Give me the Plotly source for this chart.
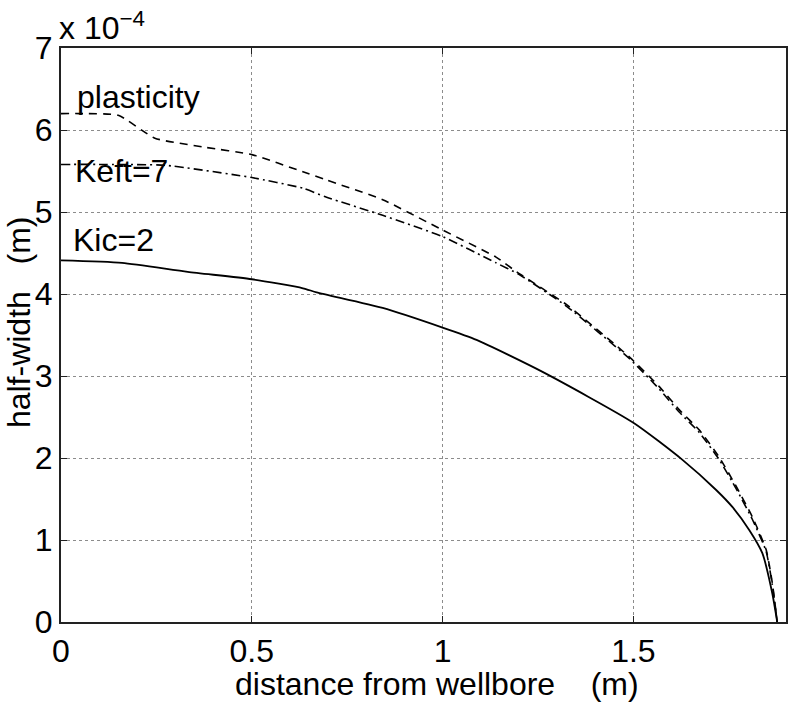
import plotly.graph_objects as go

# distance from wellbore (m)
plast_x = [0.0, 0.05, 0.15, 0.246, 0.377, 0.5, 0.634, 0.696, 0.843, 1.0, 1.14, 1.194, 1.325, 1.49, 1.568, 1.62, 1.673, 1.725, 1.77, 1.812, 1.848, 1.864, 1.877]
# half-width (x 1e-4 m)
plast_y = [6.20, 6.20, 6.18, 5.90, 5.79, 5.70, 5.49, 5.39, 5.15, 4.78, 4.45, 4.27, 3.87, 3.23, 2.87, 2.59, 2.34, 2.01, 1.65, 1.28, 0.88, 0.48, 0.0]

keft_x = [0.0, 0.1, 0.272, 0.5, 0.634, 0.696, 0.843, 1.0, 1.14, 1.2, 1.325, 1.49, 1.568, 1.62, 1.673, 1.725, 1.77, 1.812, 1.848, 1.864, 1.877]
keft_y = [5.58, 5.58, 5.57, 5.42, 5.29, 5.18, 4.96, 4.70, 4.38, 4.24, 3.85, 3.21, 2.84, 2.56, 2.31, 1.98, 1.62, 1.25, 0.86, 0.46, 0.0]

kic_x = [0.0, 0.16, 0.332, 0.5, 0.634, 0.67, 0.843, 1.0, 1.089, 1.262, 1.5, 1.628, 1.717, 1.76, 1.804, 1.838, 1.864, 1.877]
kic_y = [4.41, 4.38, 4.27, 4.18, 4.07, 4.02, 3.83, 3.59, 3.44, 3.05, 2.43, 1.98, 1.61, 1.40, 1.12, 0.84, 0.35, 0.0]

x_ticks = [0, 0.5, 1, 1.5]
x_tick_labels = ["0", "0.5", "1", "1.5"]
y_ticks = [0, 1, 2, 3, 4, 5, 6, 7]
y_tick_labels = ["0", "1", "2", "3", "4", "5", "6", "7"]

FONT = "Liberation Sans, Arial, sans-serif"
FS = 32

W, H = 791, 702
ML, MR, MT, MB = 61, 3, 48, 80
PW, PH = W - ML - MR, H - MT - MB


def px_to_paper(px, py):
    return (px - ML) / PW, 1 - (py - MT) / PH


fig = go.Figure()
fig.add_trace(go.Scatter(x=plast_x, y=plast_y, mode="lines", line_shape="spline",
                         line=dict(color="black", width=1.6, dash="8px,6px", smoothing=0.5)))
fig.add_trace(go.Scatter(x=keft_x, y=keft_y, mode="lines", line_shape="spline",
                         line=dict(color="black", width=1.6, dash="9px,4px,2px,4px", smoothing=0.5)))
fig.add_trace(go.Scatter(x=kic_x, y=kic_y, mode="lines", line_shape="spline",
                         line=dict(color="black", width=1.8, smoothing=0.6)))

labels = [("plasticity", 0.036, 6.40), ("Keft=7", 0.032, 5.50), ("Kic=2", 0.026, 4.66)]
for txt, lx, ly in labels:
    fig.add_annotation(x=lx, y=ly, text=txt, showarrow=False, xanchor="left",
                       yanchor="middle", font=dict(family=FONT, size=FS, color="black"))

ex, ey = px_to_paper(57, 48)
fig.add_annotation(xref="paper", yref="paper", x=ex, y=ey,
                   text="x 10<sup>−4</sup>", showarrow=False, xanchor="left",
                   yanchor="bottom", font=dict(family=FONT, size=FS, color="black"))

tx, ty = px_to_paper(438, 684)
fig.add_annotation(xref="paper", yref="paper", x=tx, y=ty, borderpad=0,
                   text="distance from wellbore    (m)", showarrow=False,
                   xanchor="center", yanchor="middle",
                   font=dict(family=FONT, size=FS, color="black"))

yx, yy = px_to_paper(19, 322)
fig.add_annotation(xref="paper", yref="paper", x=yx, y=yy, textangle=-90, borderpad=0,
                   text="half-width   (m)", showarrow=False,
                   xanchor="center", yanchor="middle",
                   font=dict(family=FONT, size=FS, color="black"))

axis_common = dict(showline=True, linecolor="#222222", linewidth=2, mirror="ticks",
                   ticks="inside", ticklen=6, tickcolor="#222222",
                   showgrid=True, gridcolor="#8c8c8c", griddash="dot", gridwidth=1,
                   zeroline=False,
                   tickfont=dict(family=FONT, size=FS, color="black"))

fig.update_xaxes(range=[0, 1.9], tickvals=x_ticks, ticktext=x_tick_labels,
                 ticklabelstandoff=0, **axis_common)
fig.update_yaxes(range=[0, 7], tickvals=y_ticks, ticktext=y_tick_labels,
                 ticklabelstandoff=0, **axis_common)

fig.update_layout(width=W, height=H, showlegend=False,
                  paper_bgcolor="white", plot_bgcolor="white",
                  margin=dict(l=ML, r=MR, t=MT, b=MB))

# remove the page's default body margin so the figure fills the window exactly
fig.write_html("out.html", config={"displayModeBar": False},
               post_script="document.body.style.margin='0px';document.body.style.overflow='hidden';")
